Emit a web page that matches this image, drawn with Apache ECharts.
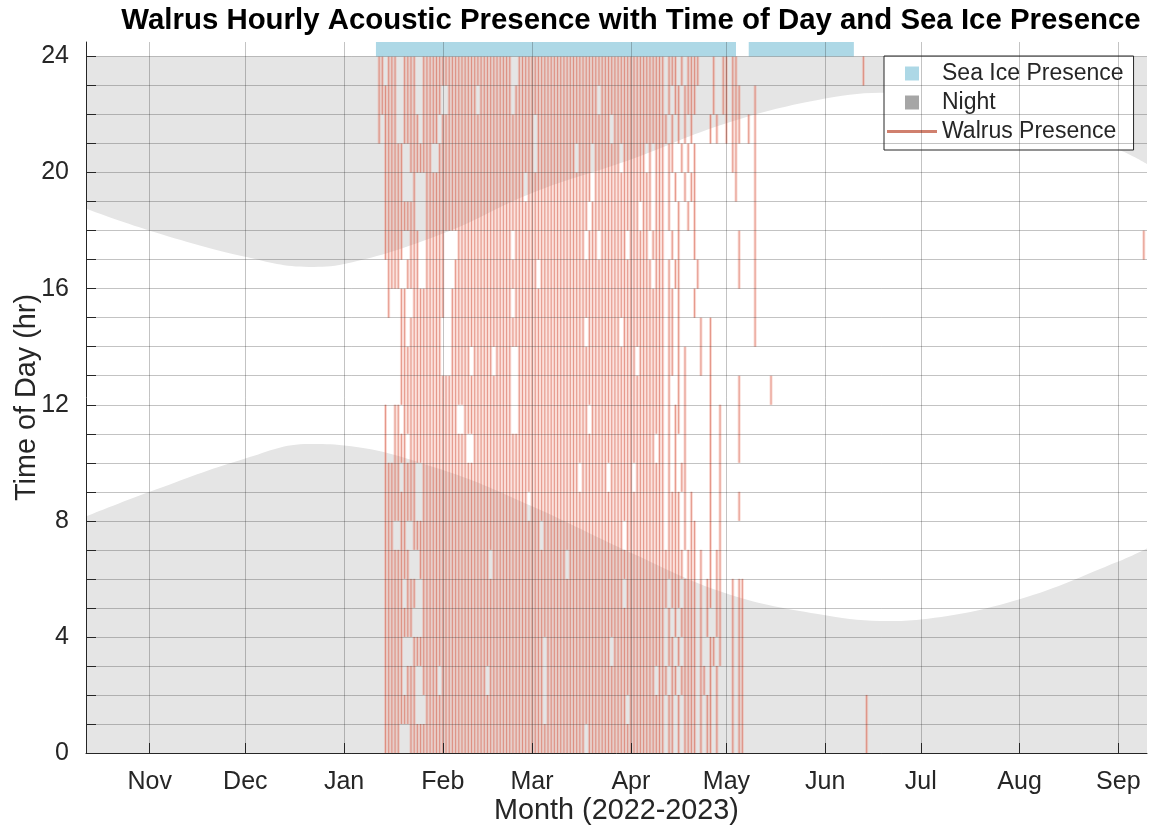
<!DOCTYPE html>
<html>
<head>
<meta charset="utf-8">
<title>Walrus Hourly Acoustic Presence</title>
<script src="https://cdn.jsdelivr.net/npm/echarts@6/dist/echarts.min.js"></script>
<style>
  html, body { margin: 0; padding: 0; background: #ffffff; }
  #chart { width: 1149px; height: 838px; }
</style>
</head>
<body>
<div id="chart"></div>
<script>
// ---- axis extents and tick labels ----
const xStart = '2022-10-12';
const xEnd = '2023-09-10';
const monthNames = ['Jan', 'Feb', 'Mar', 'Apr', 'May', 'Jun', 'Jul', 'Aug', 'Sep', 'Oct', 'Nov', 'Dec'];
const monthTicks = ['2022-11-01', '2022-12-01', '2023-01-01', '2023-02-01', '2023-03-01', '2023-04-01',
                    '2023-05-01', '2023-06-01', '2023-07-01', '2023-08-01', '2023-09-01'];
const hourTicks = [0, 1, 2, 3, 4, 5, 6, 7, 8, 9, 10, 11, 12, 13, 14, 15, 16, 17, 18, 19, 20, 21, 22, 23, 24];
const hourLabels = [0, 4, 8, 12, 16, 20, 24];

// ---- sunrise / sunset (hour of day) ----
const sunDates = ['2022-10-12', '2022-11-01', '2022-12-01', '2022-12-21', '2023-01-01', '2023-02-01',
                  '2023-03-01', '2023-04-01', '2023-05-01', '2023-06-01', '2023-06-21', '2023-07-01',
                  '2023-08-01', '2023-09-01', '2023-09-10'];
const sunrise = [8.15, 9.0, 10.15, 10.65, 10.6, 9.75, 8.5, 6.9, 5.5, 4.75, 4.55, 4.6, 5.3, 6.6, 7.05];
const sunset  = [18.75, 18.0, 17.1, 16.75, 16.85, 17.9, 19.3, 20.45, 21.7, 22.55, 22.75, 22.7, 22.0, 20.8, 20.3];

// ---- sea ice presence periods ----
const iceStart = ['2023-01-11', '2023-05-08'];
const iceEnd   = ['2023-05-04', '2023-06-10'];

// ---- walrus hourly presence: one row per hour (23 at top), one char per day from presenceStart ----
const presenceStart = '2023-01-11';
const presenceRows = [
  '.##.###..# ###..##### ########## ########## ###..##### ########## ########## ########## ########## #.###.#.## ##....#..# #.##...... ......',
  '.######..# ###..##### #..####### ##.####### ###.###### ########## ########## .######### ########## #.#.##.### #.....#..# #.###....# ......',
  '.#.####..# ####.##### .######### ########## ########## .######### ########## ####.##### ########## ##.#.#.#.# .....#.#.. #.###..#.# ......',
  '...######. .#######.. ########## ########## ########## .######### ###.####.# #######.## #####.#.## #.##..#.#. #......... ..##.....# ......',
  '...######. ..#...#### ########## ########## #######.## ########## ########.# ########## #######.## #.#.#..#.# #......... ...#.....# ......',
  '...####### ###...#### ########## ########## ########## ########## #######.## ########## ###.###.## #.#..#..#. #......... .........# ......',
  '...######. .###..#### ##....#### ########## ###.###### ########## ######.### .########. ######.### #..#.#.... #......... ....#....# ......',
  '....####.. ####..#### ##...##### ########## ########## #.######## ########## ########## #######.## #.#.##.... .#........ ....#....# ......',
  '....#...## ..######## ##..###### ########## ###.###### ########## ########## ########## ########## #.##.#.... #......... .........# ......',
  '........## .######### #...###### ########## ########## ########## ######.### #######.## ########## #.##.#.... ..#..#.... .........# ......',
  '........## ########## #...###### .######.## ###..##### ########## ########## ########## ##.####### #.##.#.#.. ..#..#.... .......... ......',
  '........## ########## ########## ########## ###..##### ########## ########## ########## ########## #.#..#.#.. .....#.... ....#..... ....#.',
  '...#..##.# ########## ######..## ########## ###..##### ########## #######.## ########## ########## #.#.##.#.. .....#..#. ....#..... ......',
  '...#..#### .######### #########. .######### ########## ########## ########## ########## ########.# #.#.#..#.. .....#..#. ....#..... ......',
  '...#####.# ###..##### ########## ########## ########## ########## ####.##### ###.###### #.######## #.#.#.##.. .....#..#. .......... ......',
  '...####### ###..##### ########## ########## ########.# ########## ########## ########## ########## #.####.#.# .....#..#. ....#..... ......',
  '...###..## ..######## ########## ########## ########## ##.####### ########## ########.# ########## #.####.#.# #....#..#. .......... ......',
  '...####### #...###### ########## ######.### ########## ########## .######### ########## ########## #######.## #.#..#.##. .......... ......',
  '...######. ###..##### ########## ########## ########## ########## ########## ########.# ########## ##.###.### #.#.##.##. ..#.##.... ......',
  '...####### ##...##### ########## ########## ########## ########## ########## ########## ########## #.#.#.#### #.#.#..##. ..#.##.... ......',
  '...######. ..######## ########## ########## ########## ###.###### ########## ####.##### ########## #.##.#.### #.#..##.#. ..#.##.... ......',
  '...######. ###..##### .######### #####.#### ########## ###.###### ########## ########## ########.# ##.##.#### #.##.#.#.. ..#.##.... ......',
  '...####### ###...#### ########## ########## ########## ###.###### ########## #########. ########## #.##.#.### #.#.##.#.. ..#.##.... ......',
  '...#####.. .######### ########## ########## ########## ########## ######.### ########## ########## #.##.#.### #.#.##.#.. ..#.##.... ......'
];
// isolated detections after the main period: [date, hour]
const extraPresence = [['2023-06-13', 23], ['2023-06-14', 0], ['2023-06-14', 1], ['2023-09-09', 17]];

// ---- colours ----
const nightFill = '#e5e5e5';
const nightKey = '#a6a6a6';
const iceColor = '#add8e6';
const walrusHalo = 'rgba(238, 140, 122, 0.32)';
const walrusCore = 'rgba(212, 96, 76, 0.55)';
const walrusKey = '#d0806e';
const inkColor = '#262626';
const gridColor = 'rgba(38, 38, 38, 0.28)';

const DAY = 86400000;
const t = s => Date.parse(s + 'T00:00:00Z');

// expand the presence rows into [time, hour] points
const presence = [];
const t0 = t(presenceStart);
presenceRows.forEach((row, i) => {
  const hour = 23 - i;
  const cells = row.replace(/ /g, '');
  for (let c = 0; c < cells.length; c++) {
    if (cells[c] === '#') presence.push([t0 + c * DAY, hour]);
  }
});
extraPresence.forEach(([d, h]) => presence.push([t(d), h]));

const sunT = sunDates.map(t);
const iceData = iceStart.map((s, i) => [t(s), t(iceEnd[i])]);
const monthTickValues = monthTicks.map(t);

const chart = echarts.init(document.getElementById('chart'), null, { renderer: 'canvas' });

const fontFamily = '"Liberation Sans", Arial, Helvetica, sans-serif';

const option = {
  animation: false,
  backgroundColor: '#ffffff',
  textStyle: { fontFamily },
  title: {
    text: 'Walrus Hourly Acoustic Presence with Time of Day and Sea Ice Presence',
    left: 626,
    top: 1,
    textAlign: 'center',
    textStyle: { fontSize: 29.4, fontWeight: 'bold', color: '#000000', fontFamily }
  },
  legend: {
    orient: 'vertical',
    left: 884,
    top: 56,
    padding: [6, 10, 7, 3],
    itemGap: 6,
    itemWidth: 50,
    itemHeight: 14,
    backgroundColor: '#ffffff',
    borderColor: inkColor,
    borderWidth: 1,
    borderRadius: 0,
    selectedMode: false,
    textStyle: { fontSize: 23, color: inkColor, lineHeight: 23, fontFamily },
    data: [
      { name: 'Sea Ice Presence', icon: 'path://M0,0h10v10h-10z', itemStyle: { color: iceColor } },
      { name: 'Night', icon: 'path://M0,0h10v10h-10z', itemStyle: { color: nightKey } },
      { name: 'Walrus Presence', icon: 'path://M0,0h50v3h-50z', itemStyle: { color: walrusKey } }
    ]
  },
  grid: { left: 86, right: 2, top: 42, bottom: 85, containLabel: false, outerBoundsMode: 'none' },
  xAxis: {
    // time in epoch milliseconds, labelled at the first of each month
    type: 'value',
    min: t(xStart),
    max: t(xEnd),
    z: 5,
    name: 'Month (2022-2023)',
    nameLocation: 'middle',
    nameGap: 44,
    nameMoveOverlap: false,
    nameTextStyle: { fontSize: 28.8, color: inkColor },
    axisLine: { show: true, onZero: false, lineStyle: { color: inkColor, width: 1 } },
    axisTick: { show: true, inside: true, length: 10, customValues: monthTickValues,
                lineStyle: { color: inkColor } },
    axisLabel: { show: true, customValues: monthTickValues, fontSize: 25, color: inkColor, margin: 17,
                 formatter: v => monthNames[new Date(v).getUTCMonth()] },
    splitLine: { show: true, lineStyle: { color: gridColor, width: 1 } }
  },
  yAxis: {
    type: 'value',
    min: 0,
    max: 24.5,
    z: 5,
    name: 'Time of Day (hr)',
    nameLocation: 'middle',
    nameGap: 44,
    nameMoveOverlap: false,
    nameTextStyle: { fontSize: 28.8, color: inkColor },
    axisLine: { show: true, lineStyle: { color: inkColor, width: 1 } },
    axisTick: { show: true, inside: true, length: 10, customValues: hourTicks, lineStyle: { color: inkColor } },
    axisLabel: { show: true, customValues: hourLabels, fontSize: 25, color: inkColor, margin: 17 },
    splitLine: { show: true, lineStyle: { color: gridColor, width: 1 } }
  },
  series: [
    {
      // night before sunrise
      name: 'Night', type: 'line', z: 1, silent: true, smooth: 0.4, symbol: 'none',
      data: sunT.map((x, i) => [x, sunrise[i]]),
      lineStyle: { width: 0, opacity: 0 },
      areaStyle: { color: nightFill, opacity: 1, origin: 0 },
      itemStyle: { color: nightKey }
    },
    {
      // night after sunset, filled up to midnight
      name: 'Night', type: 'line', z: 1, silent: true, smooth: 0.4, symbol: 'none',
      data: sunT.map((x, i) => [x, sunset[i]]),
      lineStyle: { width: 0, opacity: 0 },
      areaStyle: { color: nightFill, opacity: 1, origin: 24 },
      itemStyle: { color: nightKey }
    },
    {
      // one vertical stroke per detected hour
      name: 'Walrus Presence', type: 'custom', z: 2, silent: true,
      encode: { x: 0, y: 1 },
      itemStyle: { color: walrusKey },
      data: presence,
      renderItem: (params, api) => {
        const x = api.value(0), h = api.value(1);
        const p0 = api.coord([x, h]);
        const p1 = api.coord([x, h + 1]);
        const shape = { x1: p0[0], y1: p0[1], x2: p1[0], y2: p1[1] };
        return {
          type: 'group',
          children: [
            { type: 'line', shape, style: { stroke: walrusHalo, lineWidth: 3 } },
            { type: 'line', shape, style: { stroke: walrusCore, lineWidth: 1 } }
          ]
        };
      }
    },
    {
      name: 'Sea Ice Presence', type: 'custom', z: 2, silent: true,
      encode: { x: [0, 1] },
      itemStyle: { color: iceColor },
      data: iceData,
      renderItem: (params, api) => {
        const a = api.coord([api.value(0), 24.5]);
        const b = api.coord([api.value(1), 24]);
        return {
          type: 'rect',
          shape: { x: a[0], y: a[1], width: b[0] - a[0], height: b[1] - a[1] },
          style: { fill: iceColor }
        };
      }
    }
  ]
};

chart.setOption(option);
</script>
</body>
</html>
